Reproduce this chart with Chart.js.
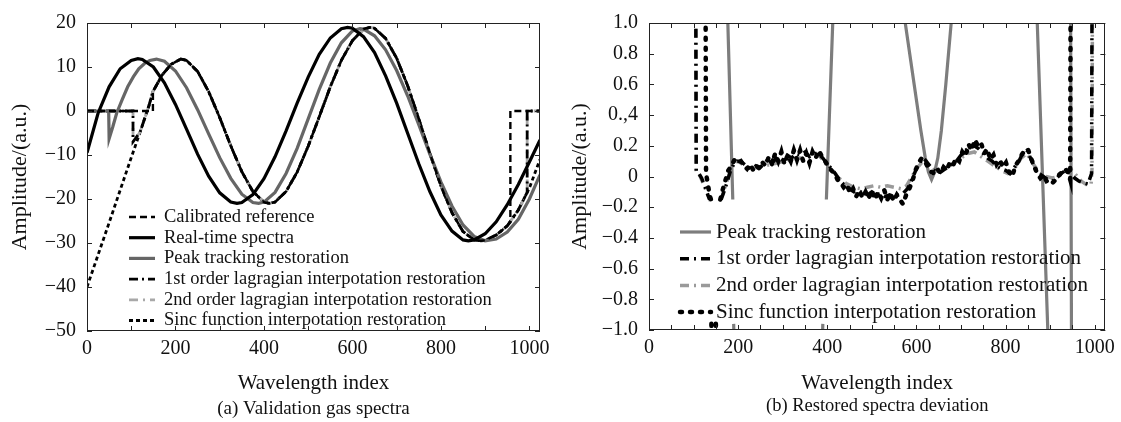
<!DOCTYPE html>
<html>
<head>
<meta charset="utf-8">
<script src="https://cdn.jsdelivr.net/npm/chart.js@4.4.1/dist/chart.umd.min.js"></script>
<style>
  body { margin: 0; background: #fff; }
  #wrap { position: relative; width: 1121px; height: 422px; }
  .box { position: absolute; top: 0; height: 422px; }
</style>
</head>
<body>
<div id="wrap">
  <div class="box" style="left:0;width:560px"><canvas id="chartA" width="560" height="422"></canvas></div>
  <div class="box" style="left:560px;width:561px"><canvas id="chartB" width="561" height="422"></canvas></div>
</div>
<script>
// ---- (a) Validation gas spectra ----
const realX = [0,25,50,75,100,115,125,150,175,200,225,250,275,300,325,339,350,375,400,425,450,475,500,525,550,575,589,600,625,650,675,700,725,750,775,800,825,850,862,875,900,925,950,975,1000,1024];
const realY = [-9.5,-0.5,5.5,9.6,11.5,11.9,11.7,10.0,6.4,1.5,-4.1,-9.8,-14.8,-18.6,-20.7,-21,-20.8,-19.0,-15.4,-10.4,-4.5,1.8,7.7,12.9,16.6,18.7,19,18.8,16.9,13.3,8.0,1.8,-5.1,-12.0,-18.3,-23.6,-27.3,-29.3,-29.5,-29.3,-27.9,-25.2,-21.3,-16.7,-11.6,-6.6];

const peakX = [0,49,50,58,67,80,92,105,117,130,142,157,175,200,225,250,275,300,325,350,375,388,400,425,450,475,500,525,550,575,600,617,625,650,675,700,725,750,775,800,825,850,875,900,925,950,975,1000,1024];
const peakY = [0,0,-6.3,-3.7,-0.5,2.7,5.5,7.8,9.6,10.8,11.5,11.8,11.3,9.1,5.3,0.3,-5.2,-10.6,-15.3,-18.9,-20.8,-21,-20.7,-18.5,-14.2,-8.5,-1.8,4.9,10.9,15.5,18.2,18.7,18.6,17.1,13.9,9.2,3.4,-3.1,-9.8,-16.1,-21.6,-25.9,-28.5,-29.5,-29.1,-27.5,-24.6,-20.0,-14.5];

// shared body of the reference-like curve (restorations sit on it)
const curveX = [170,190,212,225,250,275,300,325,350,375,400,412,425,450,475,500,525,550,575,600,625,640,650,675,700,725,750,775,800,825,850,875,890,900,925,950];
const curveY = [8.2,10.6,11.8,11.5,9.0,4.4,-1.5,-7.9,-13.8,-18.3,-20.7,-21,-20.7,-18.3,-13.9,-8.0,-1.3,5.5,11.5,16.0,18.6,19,18.8,16.5,12.0,5.7,-1.8,-9.6,-17.0,-23.1,-27.4,-29.3,-29.5,-29.4,-28.2,-26.1];

const refHeadX = [0,149,149];            const refHeadY = [0,0,4.4];
const refEndX = [957,957,1024];          const refEndY = [-25.3,0,0];
const sincHeadX = [0,25,50,82,100,120,140,149];
const sincHeadY = [-40,-32.7,-25.4,-15.9,-10.6,-4.8,1.2,4.4];
const sincEndX = [975,1000,1024];        const sincEndY = [-22.5,-17.5,-11.0];
const lagHeadX = [0,104,104,120,140,149]; const lagHeadY = [0,0,-7,-4.8,1.2,4.4];
const lagEndX = [975,995,995,1024];      const lagEndY = [-22.5,-18.5,0,0];

// ---- (b) Restored spectra deviation ----
const ptDevX = [174,188,188.5,190,192,388,390,391,398,416,417,570,575,595,610,620,627,634,641,648,656,666,678,681,682,870,896,897,946,948];
const ptDevY = [1.3,-0.15,null,-0.96,-1.2,-1.2,-0.96,null,-0.15,1.3,null,1.15,1.0,0.6,0.3,0.12,0.03,-0.02,0.03,0.12,0.3,0.6,1.0,1.1,null,1.1,-1.1,null,1.1,-1.1];

const lag1DevX = [105,106,112,118,125,132,136,137,162,168,175,182,190,198,206,214,222,230,240,250,260,270,280,290,300,310,320,330,340,350,360,370,380,390,400,410,420,430,440,450,460,470,480,490,500,510,520,530,540,550,560,570,580,590,600,610,615,622,630,640,650,660,670,680,690,700,710,720,730,740,750,760,770,780,790,800,810,820,830,840,848,856,865,875,885,895,905,915,925,935,945,955,965,975,985,993,994];
const lag1DevY = [1.1,0.03,0.02,-0.01,-0.06,-0.12,-0.15,null,-0.15,-0.1,-0.04,0.03,0.08,0.1,0.1,0.08,0.06,0.05,0.07,0.06,0.09,0.12,0.1,0.13,0.11,0.14,0.12,0.15,0.14,0.16,0.13,0.15,0.15,0.12,0.08,0.05,0.01,-0.03,-0.06,-0.08,-0.1,-0.09,-0.11,-0.12,-0.1,-0.12,-0.11,-0.13,-0.12,-0.13,-0.12,-0.11,-0.08,-0.02,0.05,0.1,0.12,0.1,0.07,0.04,0.02,0.04,0.06,0.08,0.1,0.14,0.17,0.19,0.2,0.18,0.15,0.12,0.1,0.07,0.05,0.04,0.02,0.06,0.1,0.16,0.17,0.12,0.06,0.02,0.0,-0.02,-0.03,-0.01,0.02,0.04,0.02,-0.01,-0.03,-0.04,-0.05,0.02,1.1];

const lag2DevX = [105,106,115,125,135,138,139,158,165,175,185,195,205,215,230,245,260,275,290,305,320,335,350,365,380,390,400,415,430,445,460,475,490,505,520,535,550,565,578,590,600,612,625,640,655,670,685,700,715,730,745,760,775,790,805,820,835,848,860,875,890,905,920,935,945,955,970,985,992,994,995];
const lag2DevY = [1.1,0.04,0.0,-0.07,-0.14,-0.16,null,-0.16,-0.12,-0.03,0.06,0.1,0.09,0.07,0.05,0.06,0.07,0.08,0.09,0.1,0.11,0.12,0.12,0.13,0.14,0.11,0.07,0.03,-0.02,-0.05,-0.07,-0.08,-0.07,-0.06,-0.07,-0.06,-0.07,-0.08,-0.06,0.0,0.05,0.09,0.08,0.04,0.03,0.06,0.09,0.12,0.15,0.16,0.13,0.1,0.07,0.04,0.02,0.05,0.12,0.15,0.09,0.03,0.0,-0.01,0.0,0.04,0.05,0.02,-0.03,-0.06,-0.05,0.05,1.1];

const sincDevX = [127,128,132,136,139,139.5,140,141,142,150,151,152,160,166,172,178,185,192,199,206,213,220,227,234,241,248,255,262,269,276,283,290,297,304,311,318,325,332,339,346,353,360,367,374,381,388,395,402,409,416,423,430,437,444,451,458,465,472,479,486,493,500,507,514,521,528,535,542,549,556,563,570,577,584,591,598,605,612,619,626,633,640,647,654,661,668,675,682,689,696,703,710,717,724,731,738,745,752,759,766,773,780,787,794,801,808,815,822,829,836,843,850,857,864,871,878,885,892,899,906,913,920,927,934,941,945,946];
const sincDevY = [1.1,0.02,-0.05,-0.12,-0.15,null,-0.96,-1.1,null,-0.96,-1.1,null,-0.15,-0.08,-0.02,0.04,0.07,0.11,0.09,0.1,0.07,0.05,0.08,0.04,0.07,0.05,0.09,0.07,0.13,0.08,0.15,0.1,0.16,0.08,0.14,0.1,0.17,0.11,0.17,0.1,0.15,0.09,0.16,0.12,0.17,0.13,0.1,0.07,0.04,0.02,-0.02,-0.04,-0.07,-0.05,-0.11,-0.08,-0.13,-0.09,-0.14,-0.1,-0.14,-0.09,-0.15,-0.1,-0.14,-0.09,-0.15,-0.11,-0.16,-0.12,-0.15,-0.18,-0.12,-0.08,-0.03,0.04,0.09,0.12,0.1,0.06,0.03,0.02,0.05,0.02,0.06,0.04,0.09,0.07,0.12,0.1,0.16,0.13,0.21,0.17,0.24,0.2,0.22,0.15,0.18,0.11,0.14,0.08,0.11,0.06,0.09,0.03,0.0,0.07,0.1,0.14,0.17,0.18,0.12,0.07,0.02,-0.01,0.01,-0.03,-0.02,-0.04,-0.02,0.01,0.03,0.05,0.02,-0.02,1.1];

const yLabelsB = ['−1.0','−0.8','−0.6','−0.4','−0.2','0','0.2','0.,4','0.6','0.8','1.0'];

const serif = '"Liberation Serif", "Times New Roman", serif';
Chart.defaults.font.family = serif;
Chart.defaults.color = '#111';

function pts(xs, ys) {
    return xs.map((x, i) => ({ x: x, y: ys[i] }));
}

// frame with inward tick marks on all four sides
const frameTicks = {
    id: 'frameTicks',
    afterDatasetsDraw(chart) {
        const { ctx, chartArea: a, scales: { x, y } } = chart;
        const len = 5;
        ctx.save();
        ctx.strokeStyle = '#222';
        ctx.lineWidth = 1;
        ctx.strokeRect(Math.round(a.left) + 0.5, Math.round(a.top) + 0.5, Math.round(a.width) - 1, Math.round(a.height) - 1);
        ctx.beginPath();
        x.ticks.forEach(t => {
            const px = Math.round(x.getPixelForValue(t.value)) + 0.5;
            ctx.moveTo(px, a.bottom); ctx.lineTo(px, a.bottom - len);
            ctx.moveTo(px, a.top); ctx.lineTo(px, a.top + len);
        });
        y.ticks.forEach(t => {
            const py = Math.round(y.getPixelForValue(t.value)) + 0.5;
            ctx.moveTo(a.left, py); ctx.lineTo(a.left + len, py);
            ctx.moveTo(a.right, py); ctx.lineTo(a.right - len, py);
        });
        ctx.stroke();
        ctx.restore();
    }
};

// legend inside the plot + caption under the axis title
const innerLegend = {
    id: 'innerLegend',
    afterDraw(chart, args, opts) {
        const ctx = chart.ctx;
        ctx.save();
        ctx.font = opts.fontSize + 'px ' + serif;
        ctx.textBaseline = 'middle';
        ctx.fillStyle = '#111';
        chart.data.datasets.forEach((ds, i) => {
            const y = opts.y + i * opts.gap;
            ctx.beginPath();
            ctx.strokeStyle = ds.borderColor;
            ctx.lineWidth = ds.borderWidth;
            ctx.lineCap = ds.borderCapStyle || 'butt';
            ctx.setLineDash(ds.borderDash || []);
            ctx.moveTo(opts.x0, y);
            ctx.lineTo(opts.x1, y);
            ctx.stroke();
            ctx.setLineDash([]);
            ctx.textAlign = 'left';
            ctx.fillText(ds.label, opts.tx, y);
        });
        const a = chart.chartArea;
        ctx.font = opts.captionSize + 'px ' + serif;
        ctx.textAlign = 'center';
        ctx.fillText(opts.caption, (a.left + a.right) / 2, opts.captionY);
        ctx.restore();
    }
};

function baseScales(o) {
    return {
        x: {
            type: 'linear', min: 0, max: 1024,
            grid: { display: false, drawTicks: false },
            border: { display: false },
            afterFit: s => { s.height = o.xHeight; },
            ticks: {
                stepSize: o.xStep, includeBounds: false, autoSkip: false, maxRotation: 0,
                padding: 6, font: { size: 20 },
                callback: v => (v % 200 === 0 ? String(v) : '')
            },
            title: { display: true, text: 'Wavelength index', font: { size: 21 }, padding: { top: 0, bottom: 26 } }
        },
        y: {
            type: 'linear', min: o.yMin, max: o.yMax,
            grid: { display: false, drawTicks: false },
            border: { display: false },
            afterFit: s => { s.width = o.yWidth; },
            ticks: { stepSize: o.yStep, includeBounds: false, autoSkip: false, padding: 11, font: { size: 20 }, callback: o.yLabel },
            title: { display: true, text: 'Amplitude/(a.u.)', font: { size: 22 }, padding: { top: 7, bottom: 0 } }
        }
    };
}

const lineBase = { pointRadius: 0, tension: 0, fill: false, spanGaps: false };

new Chart(document.getElementById('chartA'), {
    type: 'line',
    data: {
        datasets: [
            Object.assign({ label: 'Calibrated reference', data: pts(refHeadX.concat(curveX, refEndX), refHeadY.concat(curveY, refEndY)),
                borderColor: '#000', borderWidth: 2.4, borderDash: [7, 4] }, lineBase),
            Object.assign({ label: 'Real-time spectra', data: pts(realX, realY),
                borderColor: '#000', borderWidth: 3.2 }, lineBase),
            Object.assign({ label: 'Peak tracking restoration', data: pts(peakX, peakY),
                borderColor: '#666', borderWidth: 3.2 }, lineBase),
            Object.assign({ label: '1st order lagragian interpotation restoration', data: pts(lagHeadX.concat(curveX, lagEndX), lagHeadY.concat(curveY, lagEndY)),
                borderColor: '#000', borderWidth: 2.8, borderDash: [9, 4, 2, 4] }, lineBase),
            Object.assign({ label: '2nd order lagragian interpotation restoration', data: pts(lagHeadX.concat(curveX, lagEndX), lagHeadY.concat(curveY, lagEndY)),
                borderColor: '#a8a8a8', borderWidth: 2.8, borderDash: [9, 5, 2, 5] }, lineBase),
            Object.assign({ label: 'Sinc function interpotation restoration', data: pts(sincHeadX.concat(curveX, sincEndX), sincHeadY.concat(curveY, sincEndY)),
                borderColor: '#000', borderWidth: 2.8, borderDash: [4, 3] }, lineBase)
        ]
    },
    options: {
        responsive: false, animation: false,
        layout: { padding: { top: 21, right: 20, bottom: 0, left: 0 } },
        scales: baseScales({ xHeight: 91, xStep: 100, yMin: -50, yMax: 20, yStep: 10, yWidth: 87,
            yLabel: v => (v < 0 ? '−' + Math.abs(v) : String(v)) }),
        plugins: {
            legend: { display: false }, tooltip: { enabled: false },
            innerLegend: { x0: 129, x1: 155, tx: 164, y: 217, gap: 20.7, fontSize: 18.5,
                caption: '(a) Validation gas spectra', captionSize: 19, captionY: 409 }
        }
    },
    plugins: [frameTicks, innerLegend]
});

new Chart(document.getElementById('chartB'), {
    type: 'line',
    data: {
        datasets: [
            Object.assign({ label: 'Peak tracking restoration', data: pts(ptDevX, ptDevY),
                borderColor: '#7d7d7d', borderWidth: 3.2 }, lineBase),
            Object.assign({ label: '1st order lagragian interpotation restoration', data: pts(lag1DevX, lag1DevY),
                borderColor: '#000', borderWidth: 3.5, borderDash: [9, 5, 2, 5], order: -1 }, lineBase),
            Object.assign({ label: '2nd order lagragian interpotation restoration', data: pts(lag2DevX, lag2DevY),
                borderColor: '#9a9a9a', borderWidth: 3.5, borderDash: [9, 5, 2, 5] }, lineBase),
            Object.assign({ label: 'Sinc function interpotation restoration', data: pts(sincDevX, sincDevY),
                borderColor: '#000', borderWidth: 4.5, borderDash: [2, 8], borderCapStyle: 'round', order: -2 }, lineBase)
        ]
    },
    options: {
        responsive: false, animation: false,
        layout: { padding: { top: 21, right: 14, bottom: 0, left: 0 } },
        scales: baseScales({ xHeight: 92, xStep: 50, yMin: -1, yMax: 1, yStep: 0.2, yWidth: 89,
            yLabel: v => yLabelsB[Math.round((v + 1) / 0.2)] }),
        plugins: {
            legend: { display: false }, tooltip: { enabled: false },
            innerLegend: { x0: 120, x1: 151, tx: 156, y: 232, gap: 26.7, fontSize: 21,
                caption: '(b) Restored spectra deviation', captionSize: 18.5, captionY: 406 }
        }
    },
    plugins: [frameTicks, innerLegend]
});
</script>
</body>
</html>
